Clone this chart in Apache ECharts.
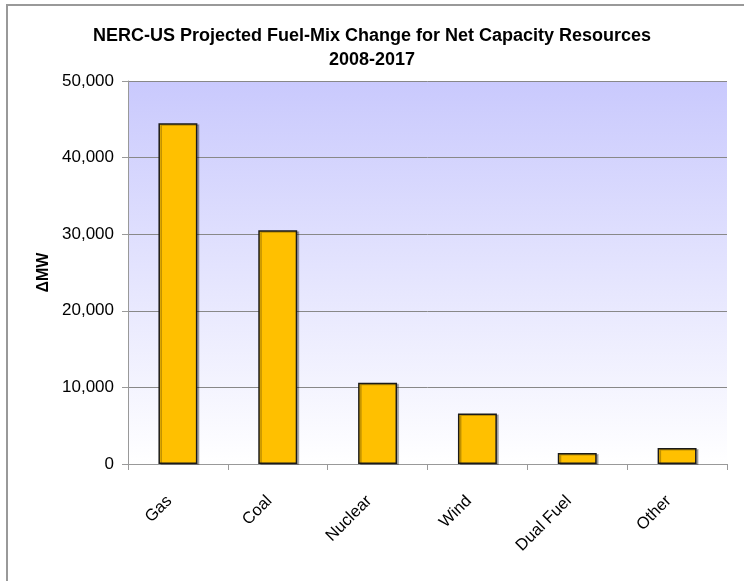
<!DOCTYPE html>
<html>
<head>
<meta charset="utf-8">
<script src="https://cdn.jsdelivr.net/npm/echarts@6/dist/echarts.min.js"></script>
<style>
  html, body { margin: 0; padding: 0; background: #fff; }
  #fuelMix { width: 744px; height: 581px; }
</style>
</head>
<body>
<div id="fuelMix"></div>
<script>
  // fuel types and projected change (MW)
  var fuels = ['Gas', 'Coal', 'Nuclear', 'Wind', 'Dual Fuel', 'Other'];
  var deltaMW = [44500, 30500, 10600, 6600, 1450, 2100];
  var yTicks = [0, 10000, 20000, 30000, 40000, 50000];

  var chartDom = document.getElementById('fuelMix');
  var myChart = echarts.init(chartDom, null, { renderer: 'canvas' });
  var font = '"Liberation Sans", Arial, sans-serif';

  var option = {
    backgroundColor: '#fff',
    animation: false,
    title: {
      text: 'NERC-US Projected Fuel-Mix Change for Net Capacity Resources\n2008-2017',
      left: 'center',
      top: 19,
      textStyle: {
        fontFamily: font,
        fontSize: 18,
        fontWeight: 'bold',
        color: '#000',
        lineHeight: 24
      }
    },
    graphic: [{
      type: 'rect',
      shape: { x: 7, y: 5, width: 760, height: 600 },
      style: { fill: 'none', stroke: '#999', lineWidth: 2 },
      silent: true
    }],
    grid: {
      left: 128,
      right: 17,
      top: 81,
      bottom: 117,
      show: true,
      borderWidth: 0,
      backgroundColor: new echarts.graphic.LinearGradient(0, 0, 0, 1, [
        { offset: 0, color: '#c9c9fd' },
        { offset: 1, color: '#ffffff' }
      ])
    },
    xAxis: {
      type: 'category',
      data: fuels,
      axisLine: { lineStyle: { color: '#999', width: 1 } },
      axisTick: { show: true, alignWithLabel: false, length: 6, lineStyle: { color: '#999' } },
      axisLabel: {
        rotate: 45,
        margin: 26,
        padding: [0, 12, 0, 0],
        fontFamily: font,
        fontSize: 16.5,
        color: '#000'
      }
    },
    yAxis: {
      type: 'value',
      min: yTicks[0],
      max: yTicks[yTicks.length - 1],
      interval: 10000,
      name: 'ΔMW',
      nameLocation: 'middle',
      nameGap: 75,
      nameTextStyle: { fontFamily: font, fontSize: 16, fontWeight: 'bold', color: '#000' },
      axisLine: { show: true, lineStyle: { color: '#999', width: 1 } },
      axisTick: { show: true, length: 6, lineStyle: { color: '#999' } },
      splitLine: { lineStyle: { color: '#888', width: 1 } },
      axisLabel: {
        margin: 14,
        fontFamily: font,
        fontSize: 17,
        color: '#000',
        formatter: function (v) { return v.toLocaleString('en-US'); }
      }
    },
    series: [{
      type: 'bar',
      data: deltaMW,
      barWidth: '39%',
      itemStyle: {
        color: '#ffc000',
        borderColor: '#1a1a1a',
        borderWidth: 1.5,
        shadowColor: 'rgba(0,0,0,0.25)',
        shadowOffsetX: 2,
        shadowOffsetY: 1,
        shadowBlur: 0
      },
      emphasis: { disabled: true }
    }]
  };

  option && myChart.setOption(option);
</script>
</body>
</html>
